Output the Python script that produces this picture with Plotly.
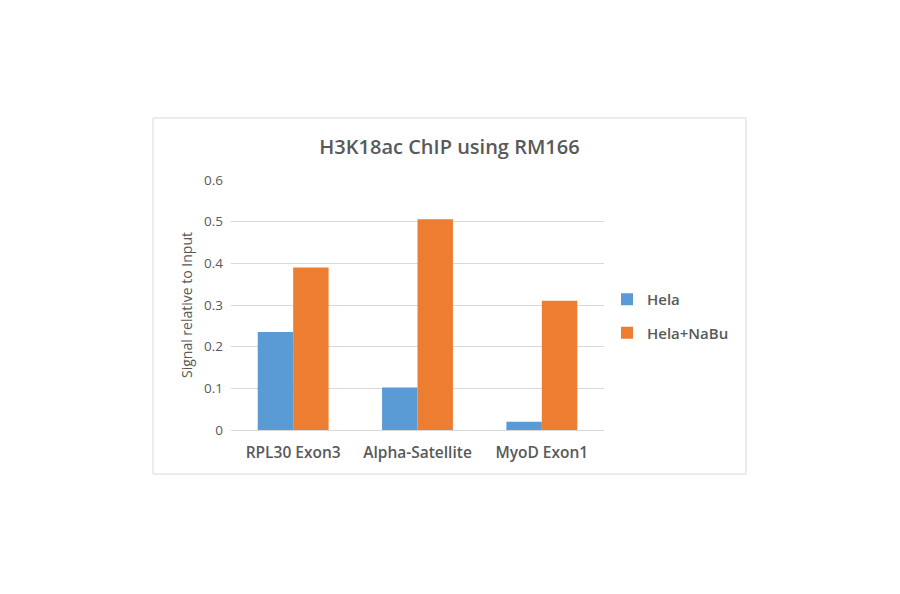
import plotly.graph_objects as go

categories = ["RPL30 Exon3", "Alpha-Satellite", "MyoD Exon1"]
hela = [0.235, 0.102, 0.02]
hela_nabu = [0.39, 0.506, 0.31]
y_ticks = [0, 0.1, 0.2, 0.3, 0.4, 0.5, 0.6]
y_tick_labels = ["0", "0.1", "0.2", "0.3", "0.4", "0.5", "0.6"]

FONT = "'Open Sans', sans-serif"
GRAY = "#595959"

fig = go.Figure()
fig.add_trace(go.Bar(x=categories, y=hela, name="Hela", marker_color="#5B9BD5",
                     marker_line_width=0, legendgroup="a"))
fig.add_trace(go.Bar(x=categories, y=hela_nabu, name="Hela+NaBu", marker_color="#ED7D31",
                     marker_line_width=0, legendgroup="b"))

fig.update_layout(
    width=900, height=594,
    paper_bgcolor="white", plot_bgcolor="white",
    margin=dict(l=223, r=304, t=172, b=172),
    barmode="group", bargap=0.43, bargroupgap=0,
    font=dict(family=FONT, color=GRAY),
    title=dict(text="H3K18ac ChIP using RM166", x=441.5/900, xanchor="center",
               y=1 - 139/594, yanchor="middle",
               font=dict(size=20, color=GRAY, family=FONT, weight=600)),
    legend=dict(x=1.008, xanchor="left", y=0.456, yanchor="middle",
                font=dict(size=15, color=GRAY, family=FONT, weight=600),
                traceorder="grouped", tracegroupgap=11,
                itemwidth=30, bgcolor="rgba(0,0,0,0)"),
    showlegend=True,
)
fig.update_xaxes(showgrid=False, showline=False, zeroline=False,
                 tickfont=dict(size=15.5, color=GRAY, family=FONT, weight=600), ticks="",
                 ticklabelstandoff=11)
fig.update_yaxes(range=[0, 0.6], tickvals=y_ticks, ticktext=y_tick_labels,
                 showgrid=True, gridcolor="#D9D9D9", gridwidth=1,
                 zeroline=True, zerolinecolor="#D9D9D9", zerolinewidth=1,
                 showline=False, ticks="",
                 tickfont=dict(size=13.5, color=GRAY, family=FONT),
                 ticklabelstandoff=7,
                 title=dict(text="Signal relative to Input", standoff=8,
                            font=dict(size=14, color=GRAY, family=FONT)))

fig.add_shape(type="rect", xref="paper", yref="paper",
              x0=(153 - 231) / 373, x1=(746 - 231) / 373,
              y0=(430 - 474) / 250, y1=(430 - 118) / 250,
              line=dict(color="#D9D9D9", width=1), fillcolor="rgba(0,0,0,0)", layer="below")

fig.write_html("out.html")
